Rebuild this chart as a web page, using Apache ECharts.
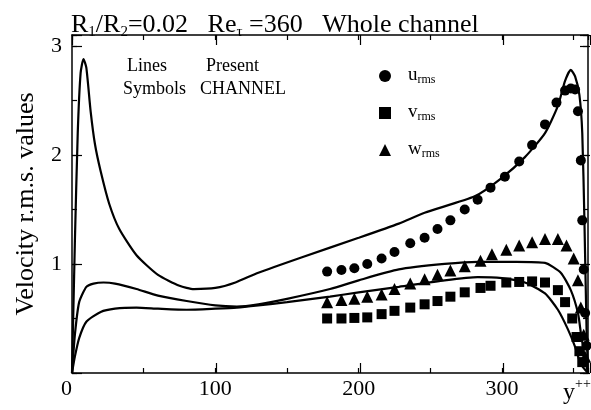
<!DOCTYPE html>
<html>
<head>
<meta charset="utf-8">
<script src="https://cdn.jsdelivr.net/npm/echarts@6/dist/echarts.min.js"></script>
<style>
  html, body { margin: 0; padding: 0; background: #fff; }
  #chart { width: 591px; height: 410px; }
</style>
</head>
<body>
<div id="chart"></div>
<script>
  // lines: present computation, [y++, value]
  var uLine = [[0, 0], [2, 1.2], [4, 2.2], [6, 2.75], [8, 2.88], [10, 2.8], [13, 2.4], [16, 2.1], [20, 1.85],
    [26, 1.55], [33, 1.32], [45, 1.08], [60, 0.9], [75, 0.8], [85, 0.77], [100, 0.78], [114, 0.83], [130, 0.92],
    [160, 1.06], [200, 1.24], [228, 1.37], [246, 1.47], [281, 1.62], [299, 1.78], [316, 1.98], [330, 2.2],
    [339, 2.45], [344, 2.68], [348, 2.78], [351, 2.72], [354, 2.55], [356, 2.2], [357.5, 1.4], [359, 0.4], [360, 0]];
  var wLine = [[0, 0], [2, 0.35], [5, 0.65], [10, 0.79], [15, 0.82], [22, 0.83], [30, 0.82], [45, 0.77], [60, 0.71],
    [80, 0.66], [100, 0.62], [115, 0.61], [130, 0.63], [150, 0.68], [180, 0.77], [200, 0.85], [228, 0.95],
    [260, 1.0], [283, 1.02], [310, 1.02], [330, 1.01], [341, 0.92], [348, 0.76], [353, 0.55], [355, 0.37],
    [358, 0.12], [360, 0]];
  var vLine = [[0, 0], [2, 0.15], [5, 0.32], [10, 0.47], [20, 0.56], [30, 0.59], [45, 0.6], [60, 0.59], [80, 0.58],
    [100, 0.59], [115, 0.6], [130, 0.62], [150, 0.65], [180, 0.7], [200, 0.74], [228, 0.79], [260, 0.85],
    [283, 0.88], [300, 0.87], [316, 0.83], [330, 0.73], [339, 0.58], [346, 0.4], [351, 0.24], [355, 0.08], [360, 0]];

  // symbols: CHANNEL data
  var uSym = [[178, 0.93], [188, 0.945], [197, 0.96], [206, 1.0], [216, 1.05], [225, 1.11], [236, 1.19], [246, 1.24],
    [255, 1.32], [264, 1.4], [274, 1.5], [283, 1.59], [292, 1.7], [302, 1.8], [312, 1.94], [321, 2.09], [330, 2.28],
    [338, 2.48], [344, 2.59], [348, 2.61], [351, 2.6], [353, 2.4], [355, 1.95], [356, 1.4], [357, 0.95],
    [358, 0.55], [359, 0.25]];
  var vSym = [[178, 0.5], [188, 0.5], [197, 0.505], [206, 0.51], [216, 0.54], [225, 0.57], [236, 0.6], [246, 0.63],
    [255, 0.66], [264, 0.7], [274, 0.74], [285, 0.78], [292, 0.8], [303, 0.83], [312, 0.835], [321, 0.84],
    [330, 0.83], [339, 0.76], [344, 0.65], [349, 0.5], [352, 0.33], [354, 0.2], [356, 0.1]];
  var wSym = [[178, 0.65], [188, 0.67], [197, 0.68], [206, 0.7], [216, 0.72], [225, 0.77], [236, 0.82], [246, 0.86],
    [255, 0.9], [264, 0.94], [274, 0.98], [285, 1.03], [293, 1.09], [303, 1.13], [312, 1.17], [321, 1.2],
    [330, 1.23], [339, 1.23], [345, 1.17], [350, 1.05], [353, 0.85], [355, 0.6], [357, 0.35], [358, 0.15]];

  var xTickLabels = [0, 100, 200, 300];
  var yTickLabels = [1, 2, 3];

  var font = 'Liberation Serif';
  var black = '#000';

  var myChart = echarts.init(document.getElementById('chart'));

  function lineSeries(name, data) {
    return {
      name: name, type: 'line', data: data, showSymbol: false, smooth: 0.2,
      lineStyle: { color: black, width: 2.2 }, itemStyle: { color: black }, z: 3
    };
  }
  function symSeries(name, symbol, size, data) {
    return {
      name: name, type: 'scatter', data: data, symbol: symbol, symbolSize: size,
      itemStyle: { color: black, opacity: 1 }, z: 4
    };
  }
  // frame axes: short ticks every 50 / 0.5 on grid 0, long ticks every 100 / 1 on grid 1
  function xFrame(grid, pos, step, len, line) {
    return {
      gridIndex: grid, type: 'value', position: pos, min: 0, max: 360, interval: step,
      axisLine: { show: line, onZero: false, lineStyle: { color: black, width: 1.5 } },
      axisTick: { inside: true, length: len, lineStyle: { color: black, width: 1.2 } },
      axisLabel: { show: false }, splitLine: { show: false }
    };
  }
  function yFrame(grid, pos, step, len, line) {
    return {
      gridIndex: grid, type: 'value', position: pos, min: 0, max: 3.1, interval: step,
      axisLine: { show: line, onZero: false, lineStyle: { color: black, width: 1.5 } },
      axisTick: { inside: true, length: len, lineStyle: { color: black, width: 1.2 } },
      axisLabel: { show: false }, splitLine: { show: false }
    };
  }

  var xMain = xFrame(0, 'bottom', 50, 5, true);
  xMain.axisLabel = {
    show: true, color: black, fontFamily: font, fontSize: 22, margin: 5, alignMinLabel: 'right',
    formatter: function (v) { return xTickLabels.indexOf(v) >= 0 ? String(v) : ''; }
  };
  var yMain = yFrame(0, 'left', 0.5, 5, true);
  yMain.name = 'Velocity r.m.s. values';
  yMain.nameLocation = 'middle';
  yMain.nameRotate = 90;
  yMain.nameGap = 33;
  yMain.nameTextStyle = { color: black, fontFamily: font, fontSize: 26 };
  yMain.axisLabel = {
    show: true, color: black, fontFamily: font, fontSize: 22, margin: 10,
    formatter: function (v) { return yTickLabels.indexOf(v) >= 0 ? String(v) : ''; }
  };

  var option = {
    animation: false,
    backgroundColor: '#fff',
    title: {
      text: '{m|R}{s|1}{m|/R}{s|2}{m|=0.02   Re}{s|τ}{m| =360   Whole channel}',
      left: 71, top: 12, padding: 0,
      textStyle: {
        fontWeight: 'normal',
        rich: {
          m: { fontFamily: font, fontSize: 26, fontWeight: 'normal', color: black, verticalAlign: 'top' },
          s: { fontFamily: font, fontSize: 15, fontWeight: 'normal', color: black, verticalAlign: 'top', padding: [13, 0, 0, 0] }
        }
      }
    },
    legend: {
      data: ['u', 'v', 'w'],
      orient: 'vertical',
      left: 379, top: 66, padding: 0,
      itemWidth: 12, itemHeight: 12,
      itemGap: 17,
      formatter: function (name) { return '{m|' + name + '}{s|rms}'; },
      textStyle: {
        padding: [0, 0, 0, 12],
        rich: {
          m: { fontFamily: font, fontSize: 19, color: black, verticalAlign: 'top' },
          s: { fontFamily: font, fontSize: 12, color: black, verticalAlign: 'top', padding: [8, 0, 0, 0] }
        }
      }
    },
    grid: [
      { left: 72, right: 1, top: 35, bottom: 37 },
      { left: 72, right: 1, top: 35, bottom: 37 }
    ],
    xAxis: [
      xMain,
      xFrame(0, 'top', 50, 5, true),
      xFrame(1, 'bottom', 100, 10, false),
      xFrame(1, 'top', 100, 10, false)
    ],
    yAxis: [
      yMain,
      yFrame(0, 'right', 0.5, 5, true),
      yFrame(1, 'left', 1, 10, false),
      yFrame(1, 'right', 1, 10, false)
    ],
    graphic: [
      { type: 'text', left: 127, top: 57, style: { text: 'Lines', font: '18px "Liberation Serif"', fill: black } },
      { type: 'text', left: 206, top: 57, style: { text: 'Present', font: '18px "Liberation Serif"', fill: black } },
      { type: 'text', left: 123, top: 80, style: { text: 'Symbols', font: '18px "Liberation Serif"', fill: black } },
      { type: 'text', left: 200, top: 80, style: { text: 'CHANNEL', font: '18px "Liberation Serif"', fill: black } },
      {
        type: 'text', left: 563, top: 377,
        style: {
          text: '{m|y}{p|++}',
          rich: {
            m: { fontFamily: font, fontSize: 24, fill: black, verticalAlign: 'top', padding: [4, 0, 0, 0] },
            p: { fontFamily: font, fontSize: 14, fill: black, verticalAlign: 'top' }
          }
        }
      }
    ],
    series: [
      lineSeries('uLine', uLine),
      lineSeries('wLine', wLine),
      lineSeries('vLine', vLine),
      symSeries('u', 'circle', 10, uSym),
      symSeries('v', 'rect', 10, vSym),
      symSeries('w', 'triangle', 12, wSym)
    ]
  };

  myChart.setOption(option);
</script>
</body>
</html>
